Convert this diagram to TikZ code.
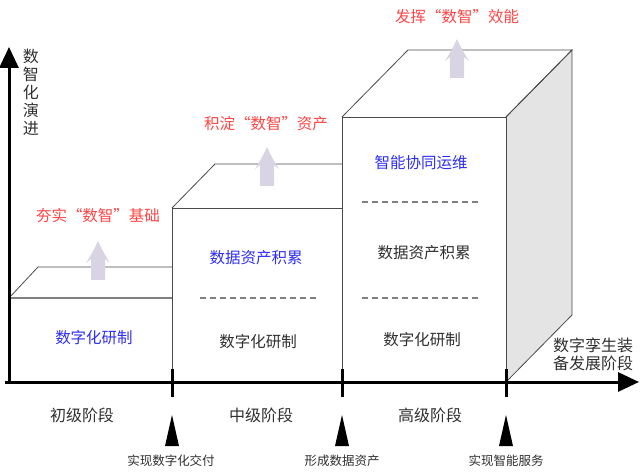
\documentclass[tikz,border=0pt]{standalone}
\usepackage{fontspec}
\setmainfont{Noto Sans CJK SC}
\usetikzlibrary{arrows.meta}
\definecolor{edgegray}{HTML}{4A4A4A}
\definecolor{sidegray}{HTML}{E4E4E4}
\definecolor{liftgray}{HTML}{D8D4E3}
\definecolor{bluetxt}{HTML}{2E2EF5}
\definecolor{redtxt}{HTML}{FF4545}
\definecolor{darktxt}{HTML}{303030}

\begin{document}
\begin{tikzpicture}[x=1pt,y=-1pt,
    edge/.style={edgegray, line width=0.8pt},
    sep/.style={gray, line width=1.1pt, dash pattern=on 6pt off 4pt},
    axis/.style={line width=3pt, -{Triangle[length=21pt,width=19pt]}},
    tick/.style={line width=3pt},
    main/.style={inner sep=0pt, darktxt, font=\fontsize{15.5}{18}\selectfont},
    bluebox/.style={main, bluetxt},
    goal/.style={main, redtxt},
    stage/.style={main, font=\fontsize{16}{18}\selectfont},
    milestone/.style={inner sep=0pt, darktxt, font=\fontsize{12.5}{14}\selectfont}]
    \useasboundingbox (0,0) rectangle (641,476);

    % box 1
    \draw[edge] (9,298) -- (38,267) -- (172,267);
    \draw[gray, line width=1.2pt] (9,298) -- (172,298);
    % box 2
    \draw[edge] (172,382) -- (172,208) -- (342,208);
    \draw[edge] (172,208) -- (215,164) -- (342,164);
    % box 3
    \filldraw[edge, fill=sidegray] (506,117) -- (572,50) -- (572,315) -- (506,382) -- cycle;
    \filldraw[edge, fill=white] (342,382) -- (342,117) -- (506,117) -- (506,382);
    \draw[edge] (342,117) -- (408,50) -- (572,50) -- (506,117);

    % dashed separators
    \draw[sep] (200,298) -- (318,298);
    \draw[sep] (362,202) -- (479,202);
    \draw[sep] (362,298) -- (479,298);

    % lift arrows
    \foreach \x/\y in {98/280, 267/186, 457/78}
        \fill[liftgray] (\x-7,\y) -- (\x-7,\y-21) -- (\x-12,\y-17)
            .. controls (\x-7,\y-25) and (\x-3,\y-32) .. (\x,\y-39)
            .. controls (\x+3,\y-32) and (\x+7,\y-25) .. (\x+12,\y-17)
            -- (\x+7,\y-21) -- (\x+7,\y) -- cycle;

    % texts in boxes
    \node[bluebox] (D1) at (94,338) {数字化研制};
    \node[bluebox] (A2) at (256,258) {数据资产积累};
    \node[main] (D2) at (258,342) {数字化研制};
    \node[bluebox] (O3) at (421,163) {智能协同运维};
    \node[main] (A3) at (424,253) {数据资产积累};
    \node[main] (D3) at (422,340) {数字化研制};

    % goals
    \node[goal] (G1) at (98,216) {夯实“数智”基础};
    \node[goal] (G2) at (266,124) {积淀“数智”资产};
    \node[goal] (G3) at (457,17) {发挥“数智”效能};

    % axes
    \draw[axis] (9,384) -- (9,47);
    \draw[axis] (5,382) -- (639,382);
    \node[stage, align=center] (Y) at (31,92) {数\\智\\化\\演\\进};
    \node[stage, align=left] (X) at (593,354) {数字孪生装\\备发展阶段};

    % ticks and milestones
    \draw[tick] (172,369) -- (172,397);
    \draw[tick] (342,369) -- (342,397);
    \draw[tick] (506,369) -- (506,397);
    \fill (165,446) -- (172,415) -- (179,446) -- cycle;
    \fill (335,446) -- (342,415) -- (349,446) -- cycle;
    \fill (499,446) -- (506,415) -- (513,446) -- cycle;

    \node[stage] (S1) at (82,415) {初级阶段};
    \node[stage] (S2) at (261,415) {中级阶段};
    \node[stage] (S3) at (430,415) {高级阶段};
    \node[milestone] (M1) at (171,461) {实现数字化交付};
    \node[milestone] (M2) at (342,461) {形成数据资产};
    \node[milestone] (M3) at (506,461) {实现智能服务};
\end{tikzpicture}
\end{document}
